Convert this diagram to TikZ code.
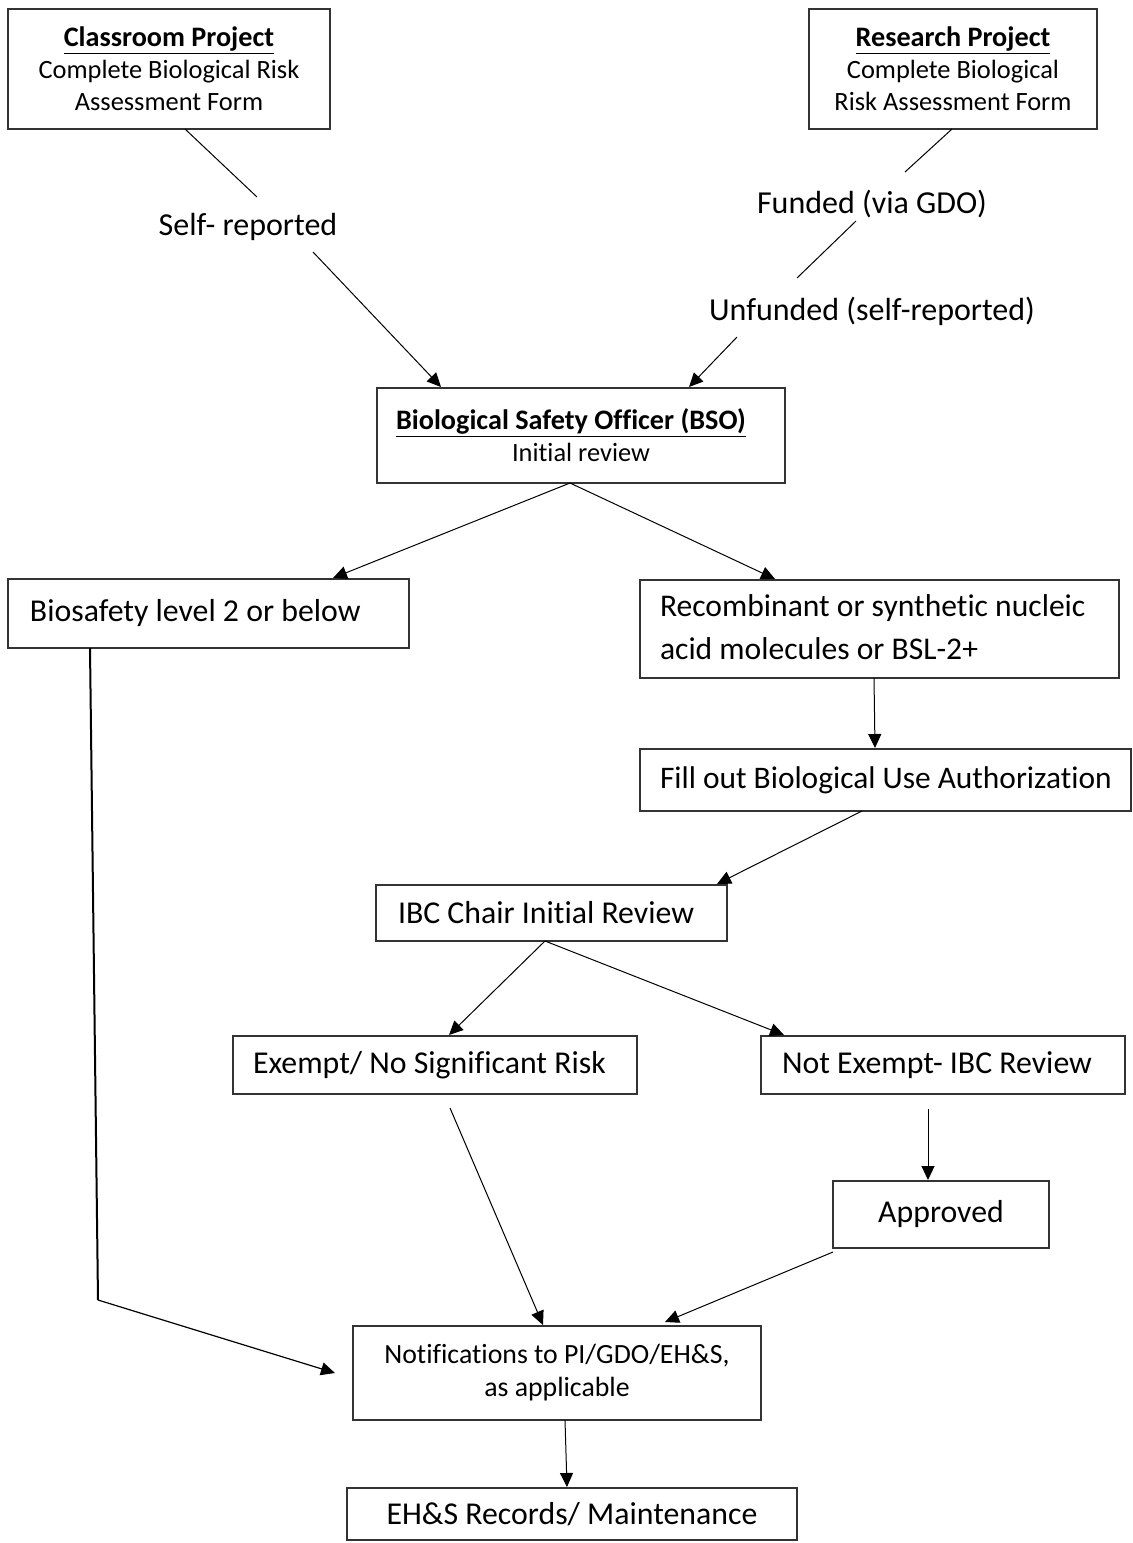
\documentclass[tikz,border=0pt]{standalone}
\usepackage{fontspec}
\setmainfont{Carlito}[Ligatures=NoCommon]
\usetikzlibrary{arrows.meta,calc}
\newcommand{\ttl}[1]{{\fontsize{28.2}{32}\selectfont\underline{\textbf{#1}}}}
\newcommand{\lft}[2]{\makebox[#1][l]{#2}}
\begin{document}
\begin{tikzpicture}[x=1pt,y=-1pt,
  box/.style={draw=black!80, line width=1.1pt, rectangle, inner sep=0pt, outer sep=0pt},
  big/.style={font=\fontsize{31.8}{40}\selectfont},
  small/.style={font=\fontsize{26.4}{32}\selectfont},
  lbox/.style={box, big, inner xsep=#1},
  lbl/.style={font=\fontsize{32}{40}\selectfont, inner sep=0pt},
  arr/.style={line width=1pt, -{Triangle[length=14pt,width=13pt]}},
  ln/.style={line width=1pt}]
\useasboundingbox[fill=white] (0,0) rectangle (1133,1543);

% boxes
\node[box, small, align=center, minimum width=322pt, minimum height=120pt] (class) at (169,69)
  {\ttl{Classroom Project}\\Complete Biological Risk\\Assessment Form};
\node[box, small, align=center, minimum width=288pt, minimum height=120pt] (research) at (953,69)
  {\ttl{Research Project}\\Complete Biological\\Risk Assessment Form};
\node[box, small, align=center, minimum width=408pt, minimum height=95pt] (bso) at (581,435.5)
  {\ttl{Biological Safety Officer (BSO)}\hspace*{20pt}\\Initial review};
\node[lbox=22pt, minimum height=69pt] (bsl2) at (208.5,613.5)
  {\lft{357pt}{Biosafety level 2 or below}};
\node[lbox=20pt, minimum height=98pt, font=\fontsize{31.6}{43}\selectfont] (recomb) at (879.5,629)
  {\lft{439pt}{\begin{tabular}{@{}l@{}}Recombinant or synthetic nucleic\\acid molecules or BSL-2+\end{tabular}}};
\node[lbox=20pt, minimum height=62pt, font=\fontsize{31.4}{40}\selectfont] (fill) at (885.5,780)
  {\lft{451pt}{Fill out Biological Use Authorization}};
\node[lbox=22pt, minimum height=56pt] (ibc) at (551.5,913)
  {\lft{307pt}{IBC Chair Initial Review}};
\node[lbox=20pt, minimum height=58pt] (exempt) at (435,1065)
  {\lft{364pt}{Exempt/ No Significant Risk}};
\node[lbox=21pt, minimum height=58pt] (notex) at (943,1065)
  {\lft{322pt}{Not Exempt- IBC Review}};
\node[box, big, minimum width=216pt, minimum height=67pt] (approved) at (941,1214.5) {Approved};
\node[box, align=center, font=\fontsize{27.8}{33}\selectfont, minimum width=408pt, minimum height=94pt] (notif) at (557,1373)
  {Notifications to PI/GDO/EH\&S,\\as applicable};
\node[box, big, minimum width=450pt, minimum height=52pt] (ehs) at (572,1514) {EH\&S Records/ Maintenance};

% free labels
\node[lbl] (self) at (248,227) {Self- reported};
\node[lbl] (funded) at (872,204) {Funded (via GDO)};
\node[lbl] (unfunded) at (872,311) {Unfunded (self-reported)};

% connectors
\draw[ln] ([xshift=177pt]class.south west) -- ([xshift=9pt,yshift=30pt]self.center);
\draw[arr] ([xshift=65pt,yshift=-25pt]self.center) -- ([xshift=64pt,yshift=1pt]bso.north west);
\draw[ln] ([xshift=143pt]research.south west) -- ([xshift=33pt,yshift=32pt]funded.center);
\draw[ln] ([xshift=-16pt,yshift=-17pt]funded.center) -- ([xshift=-75pt,yshift=33pt]unfunded.center);
\draw[arr] ([xshift=-135pt,yshift=-26pt]unfunded.center) -- ([xshift=312pt,yshift=1pt]bso.north west);
\draw[arr] ([xshift=193pt]bso.south west) -- ([xshift=325pt,yshift=1pt]bsl2.north west);
\draw[arr] ([xshift=193pt]bso.south west) -- ([xshift=135pt,yshift=1pt]recomb.north west);
\draw[arr] ([xshift=234pt]recomb.south west) -- ([xshift=235pt,yshift=1pt]fill.north west);
\draw[arr] ([xshift=222pt]fill.south west) -- ([xshift=341pt,yshift=1pt]ibc.north west);
\draw[arr] ([xshift=169pt]ibc.south west) -- ([xshift=216pt,yshift=1pt]exempt.north west);
\draw[arr] ([xshift=169pt]ibc.south west) -- ([xshift=23pt,yshift=1pt]notex.north west);
\draw[arr] ([xshift=167pt,yshift=-15pt]notex.south west) -- ([xshift=95pt,yshift=1pt]approved.north west);
\draw[arr] ([xshift=217pt,yshift=-14pt]exempt.south west) -- ([xshift=190pt,yshift=1pt]notif.north west);
\draw[arr] ([yshift=-4pt]approved.south west) -- ([xshift=312pt,yshift=4pt]notif.north west);
\coordinate (corner) at (98,1300);
\draw[line width=2pt] ([xshift=82pt]bsl2.south west) -- (corner);
\draw[line width=1.2pt, -{Triangle[length=14pt,width=13pt]}] (corner) -- ([xshift=-18pt,yshift=-47pt]notif.north west);
\draw[arr] ([xshift=212pt]notif.south west) -- ([xshift=220pt,yshift=1pt]ehs.north west);
\end{tikzpicture}
\end{document}
